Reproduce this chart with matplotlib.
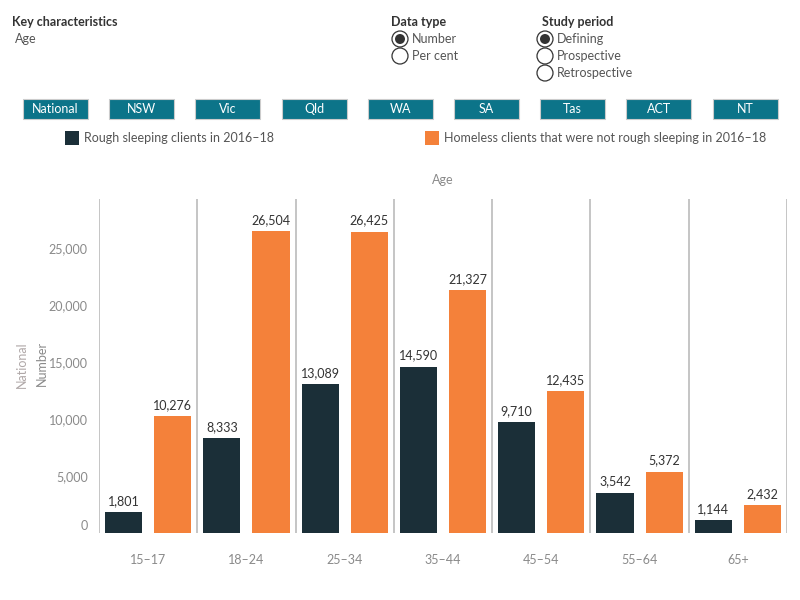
import matplotlib
matplotlib.use("Agg")
import matplotlib.pyplot as plt
import matplotlib.transforms as mtransforms
from matplotlib.patches import Rectangle, Ellipse

plt.rcParams["font.family"] = ["Lato", "DejaVu Sans"]

# ---- data ----------------------------------------------------------------
age_groups = ["15–17", "18–24", "25–34", "35–44", "45–54", "55–64", "65+"]
rough_sleeping = [1801, 8333, 13089, 14590, 9710, 3542, 1144]
not_rough = [10276, 26504, 26425, 21327, 12435, 5372, 2432]
y_ticks = [0, 5000, 10000, 15000, 20000, 25000]
regions = ["National", "NSW", "Vic", "Qld", "WA", "SA", "Tas", "ACT", "NT"]
series_names = ["Rough sleeping clients in 2016–18",
                "Homeless clients that were not rough sleeping in 2016–18"]
data_types = ["Number", "Per cent"]
study_periods = ["Defining", "Prospective", "Retrospective"]

DARK = "#1b2f38"
ORANGE = "#f4813a"
TEAL = "#0c7489"
GREY = "#8a8a8a"
TXT = "#333333"

W, H = 800, 600
fig = plt.figure(figsize=(8, 6), dpi=100)


def fx(x):
    return x / W


def fy(y):
    return 1 - y / H


def radio(x, y, selected):
    fig.patches.append(Ellipse((fx(x), fy(y)), 16 / W, 16 / H,
                               transform=fig.transFigure, fc="white",
                               ec="#333333", lw=0.9))
    if selected:
        fig.patches.append(Ellipse((fx(x), fy(y)), 10 / W, 10 / H,
                                   transform=fig.transFigure, fc="#333333",
                                   ec="none"))


# ---- header controls -----------------------------------------------------
fig.text(fx(12), fy(22), "Key characteristics", fontsize=9, fontweight="bold",
         color=TXT, va="center")
fig.text(fx(15), fy(39), "Age", fontsize=9, color="#555555", va="center")

fig.text(fx(391), fy(22), "Data type", fontsize=9, fontweight="bold",
         color=TXT, va="center")
for i, name in enumerate(data_types):
    y = 39 + 17 * i
    radio(400, y, i == 0)
    fig.text(fx(412), fy(y), name, fontsize=9, color="#555555", va="center")

fig.text(fx(542), fy(22), "Study period", fontsize=9, fontweight="bold",
         color=TXT, va="center")
for i, name in enumerate(study_periods):
    y = 39 + 17 * i
    radio(545, y, i == 0)
    fig.text(fx(557), fy(y), name, fontsize=9, color="#555555", va="center")

# region buttons
for i, r in enumerate(regions):
    x0 = 23 + 86.2 * i
    fig.patches.append(Rectangle((fx(x0), fy(119)), 65 / W, 20 / H,
                                 transform=fig.transFigure, fc=TEAL,
                                 ec="#cccccc", lw=0.8))
    fig.text(fx(x0 + 32.5), fy(109), r, fontsize=9, color="white",
             ha="center", va="center")

# legend
for (x0, name, col) in [(65, series_names[0], DARK), (425, series_names[1], ORANGE)]:
    fig.patches.append(Rectangle((fx(x0), fy(145)), 14 / W, 14 / H,
                                 transform=fig.transFigure, fc=col, ec="none"))
    fig.text(fx(x0 + 19), fy(138), name, fontsize=9, color="#555555", va="center")

fig.text(fx(443), fy(180), "Age", fontsize=9, color=GREY, ha="center", va="center")

# ---- main chart ----------------------------------------------------------
ax = fig.add_axes([fx(99), fy(533), 688 / W, (533 - 199) / H])
n = len(age_groups)
bw = 0.377
for i in range(n):
    ax.bar(i + 0.25, rough_sleeping[i], width=bw, color=DARK)
    ax.bar(i + 0.75, not_rough[i], width=bw, color=ORANGE)
    ax.text(i + 0.25, rough_sleeping[i] + 450, f"{rough_sleeping[i]:,}",
            ha="center", va="bottom", fontsize=9, color=TXT)
    ax.text(i + 0.75, not_rough[i] + 450, f"{not_rough[i]:,}",
            ha="center", va="bottom", fontsize=9, color=TXT)

for i in range(n + 1):
    ax.axvline(i, color="#bbbbbb", lw=1.2)

ax.set_xlim(0, n)
ax.set_ylim(0, 29300)
for s in ax.spines.values():
    s.set_visible(False)
ax.set_yticks(y_ticks)
ax.set_yticklabels([f"{v:,}" for v in y_ticks])
ax.tick_params(axis="y", length=0, pad=8, labelsize=9, labelcolor=GREY)
# the zero label sits a little above the baseline, as in the original
zero_lbl = ax.get_yticklabels()[0]
zero_lbl.set_transform(zero_lbl.get_transform() +
                       mtransforms.ScaledTranslation(0, 8 / 100, fig.dpi_scale_trans))
ax.set_xticks([i + 0.5 for i in range(n)])
ax.set_xticklabels(age_groups)
ax.tick_params(axis="x", length=0, pad=15, labelsize=9, labelcolor=GREY)

fig.text(fx(22), fy(365), "National", rotation=90, fontsize=9, color="#b0a8a8",
         ha="center", va="center")
fig.text(fx(42), fy(363), "Number", rotation=90, fontsize=9, color=GREY,
         ha="center", va="center")

fig.savefig("out.png", dpi=100)
